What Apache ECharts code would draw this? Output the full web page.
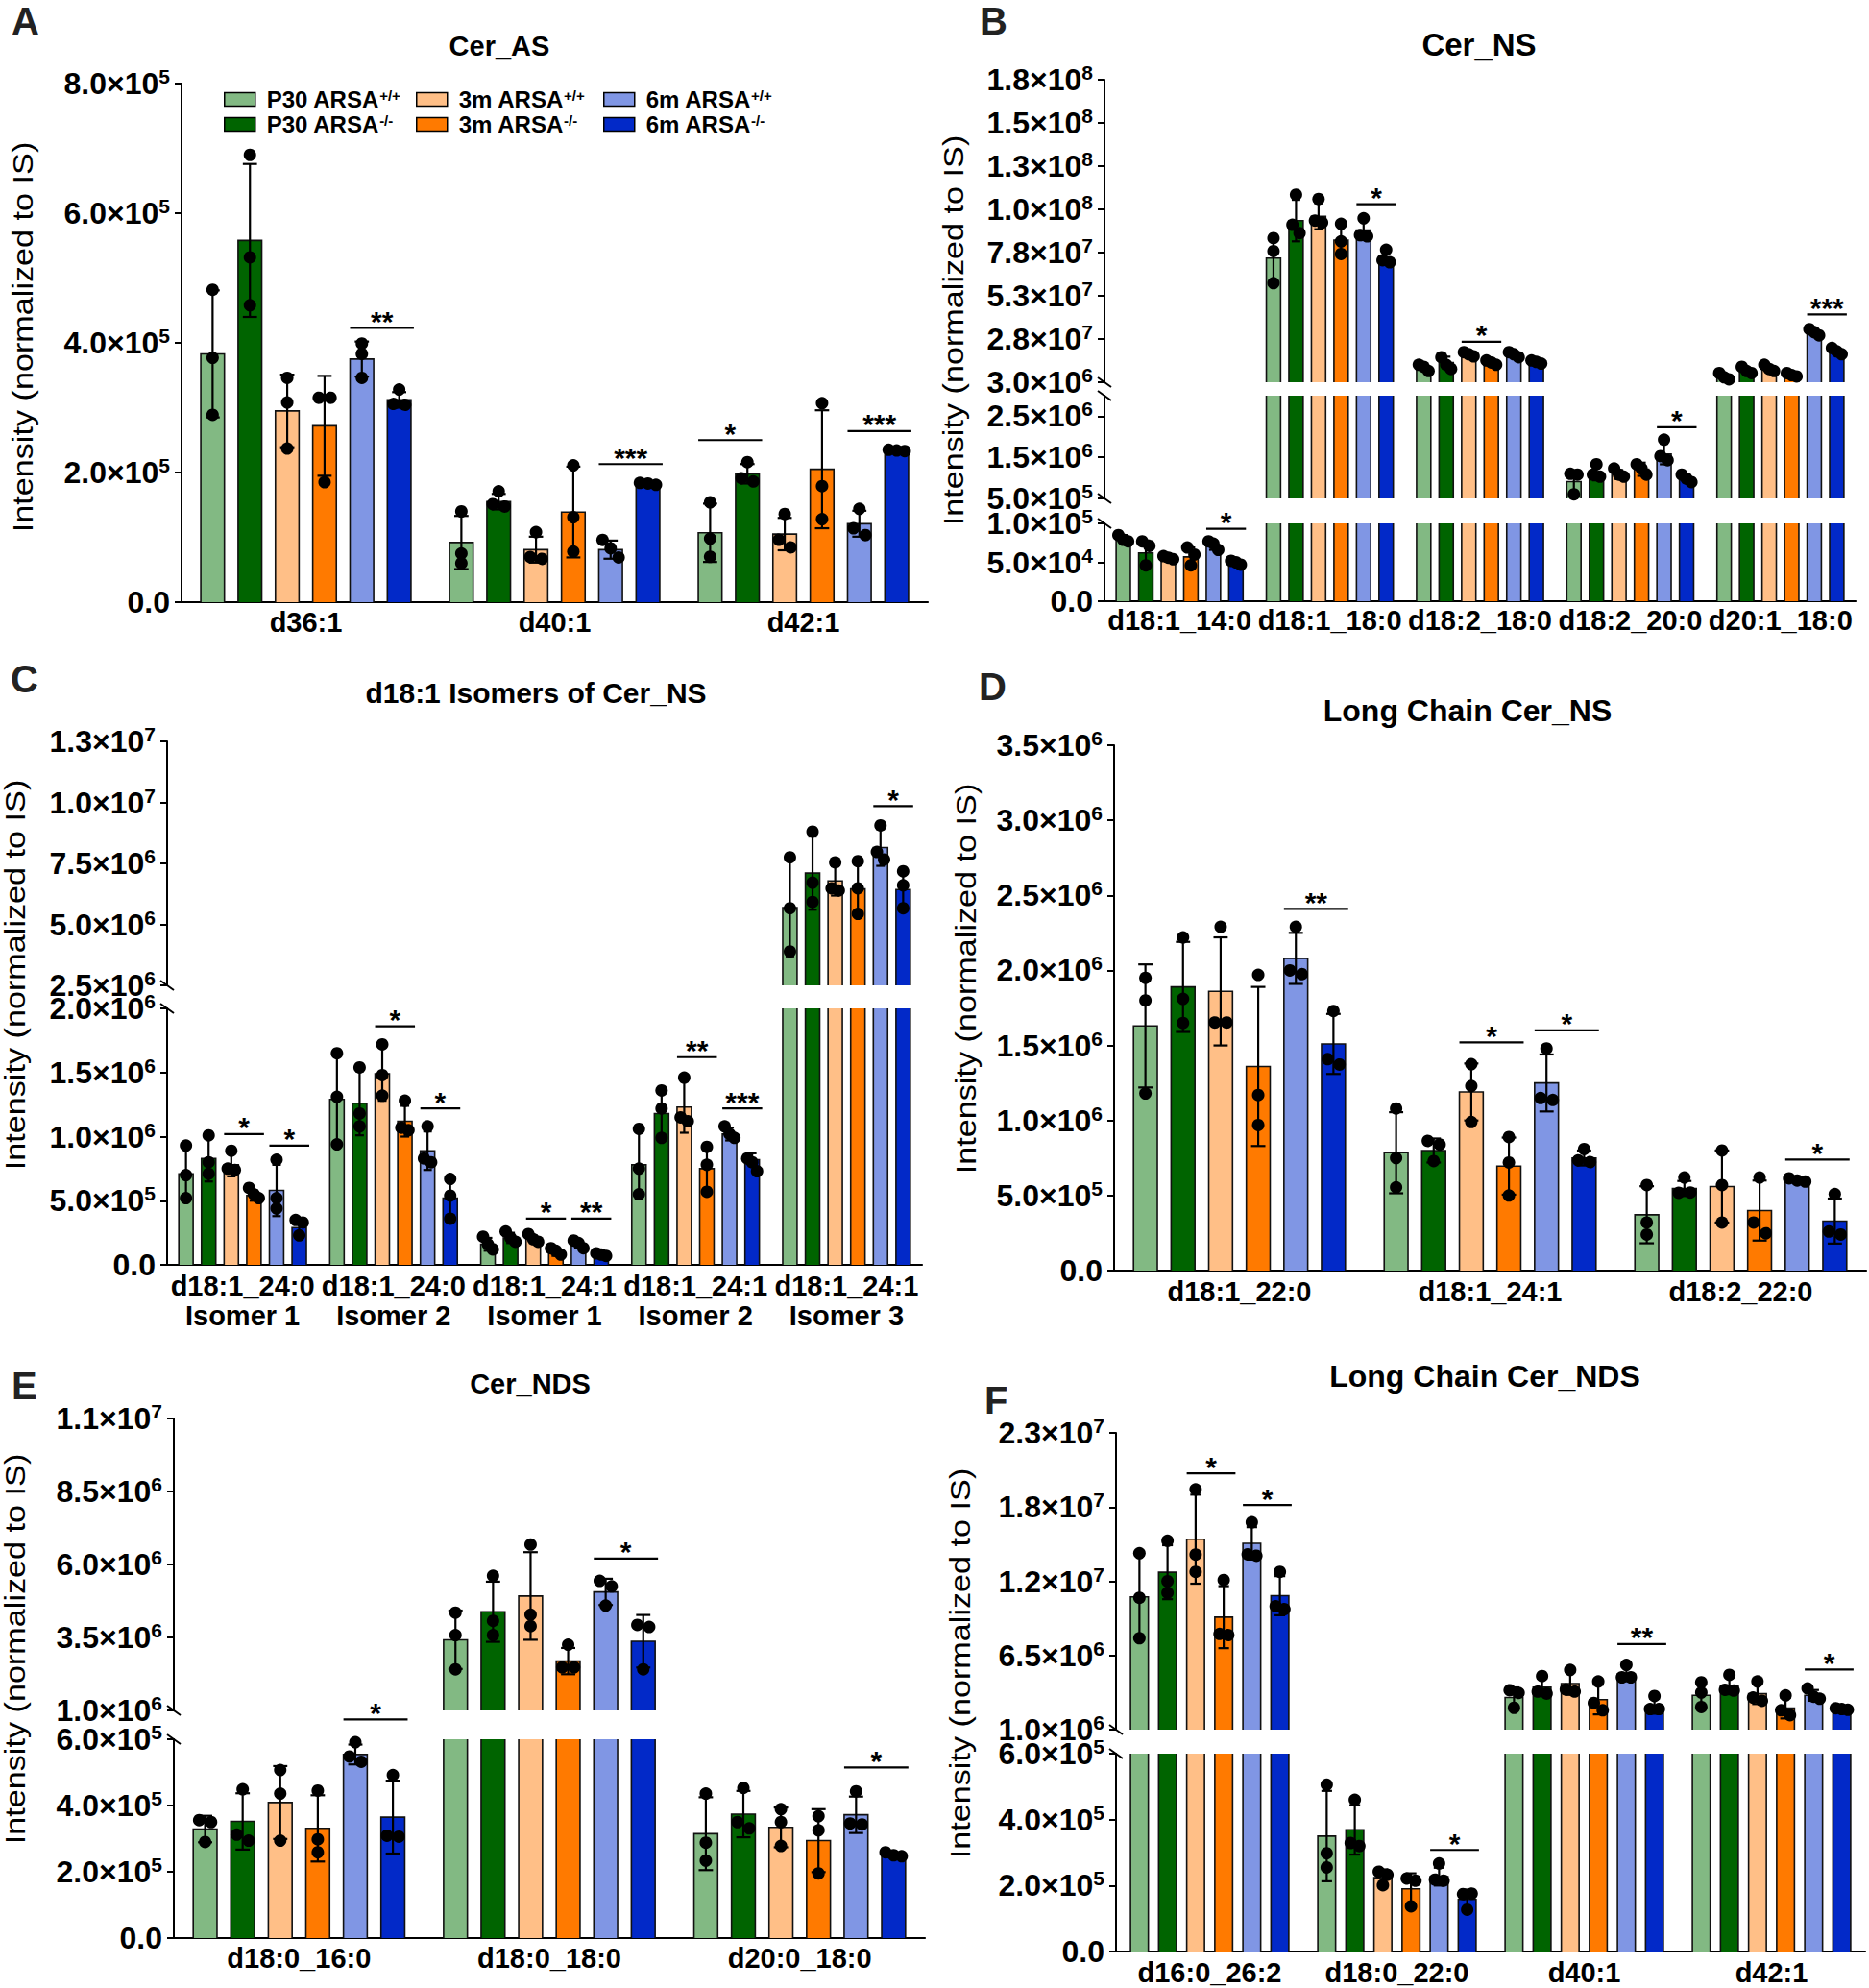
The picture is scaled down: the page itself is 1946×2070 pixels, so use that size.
<!DOCTYPE html>
<html><head><meta charset="utf-8">
<script src="https://cdn.jsdelivr.net/npm/echarts@6/dist/echarts.min.js"></script>
<style>html,body{margin:0;padding:0;background:#fff}#c{width:1946px;height:2070px}</style>
</head><body><div id="c"></div>
<script>
// ---------------- DATA ----------------
const groups = ['P30 ARSA+/+','P30 ARSA-/-','3m ARSA+/+','3m ARSA-/-','6m ARSA+/+','6m ARSA-/-'];
const colors = ['#82B983','#006400','#FFBF87','#FF7A00','#8096E4','#0229C8'];

// Panel A: Cer_AS (values in units of 1e5)
const A_cats = ['d36:1','d40:1','d42:1'];
const A_unit = 1e5;
const A_mean = [[3.83,0.92,1.07],[5.58,1.55,1.98],[2.95,0.81,1.05],[2.72,1.39,2.05],[3.75,0.81,1.21],[3.12,1.84,2.33]];
const A_sd   = [[0.98,0.41,0.45],[1.18,0.12,0.15],[0.56,0.20,0.25],[0.77,0.70,0.91],[0.27,0.14,0.20],[0.12,0.02,0.01]];
const A_pts  = [
  [[4.82,3.77,2.89],[1.40,0.75,0.60],[1.54,0.98,0.70]],
  [[6.90,5.32,4.58],[1.71,1.52,1.49],[2.16,1.92,1.87]],
  [[3.46,3.08,2.37],[1.08,0.72,0.69],[1.36,0.98,0.86]],
  [[3.17,3.17,1.85],[2.11,1.31,0.78],[3.07,1.79,1.28]],
  [[3.99,3.83,3.46],[0.96,0.83,0.69],[1.44,1.14,1.05]],
  [[3.28,3.07,3.06],[1.84,1.83,1.81],[2.35,2.34,2.33]]];
const A_sig = [[0,4,5,4.23,'**'],[1,4,5,2.13,'***'],[2,0,1,2.50,'*'],[2,4,5,2.64,'***']];
const A_ranges = [[0,8e5]];
const A_ticks = [[0,2e5,4e5,6e5,8e5]];

// Panel B: Cer_NS (units of 1e6)
const B_cats = ['d18:1_14:0','d18:1_18:0','d18:2_18:0','d18:2_20:0','d20:1_18:0'];
const B_unit = 1e6;
const B_mean = [[0.081,74.8,11.9,0.91,5.9],[0.062,96.5,14.4,1.10,9.5],[0.054,99.0,19.2,1.08,10.7],[0.057,85.2,14.4,1.21,7.1],[0.072,91.0,19.2,1.58,32.0],[0.049,74.8,14.8,0.98,20.4]];
const B_sd   = [[0.004,13,1.8,0.27,1.8],[0.016,12,3.4,0.16,1.8],[0.002,7.5,1.2,0.11,1.8],[0.012,8.7,1.2,0.16,1.2],[0.006,5.8,1.2,0.25,1.8],[0.003,3.8,0.9,0.09,1.8]];
const B_pts  = [
  [[0.085,0.079,0.077],[86.4,78.9,60.3],[13.1,11.9,9.5],[1.10,1.08,0.60],[8.3,5.9,4.7]],
  [[0.077,0.071,0.046],[111.5,94.1,89.3],[17.5,13.1,10.7],[1.33,1.08,1.03],[11.9,9.5,8.3]],
  [[0.058,0.056,0.054],[109,96.5,95.3],[20.4,19.2,18.0],[1.23,1.08,1.03],[13.1,10.7,9.5]],
  [[0.069,0.060,0.046],[94.6,84.5,77.2],[15.6,14.4,13.1],[1.33,1.23,1.08],[8.3,7.1,6.4]],
  [[0.077,0.074,0.066],[97.8,88.1,87.4],[20.4,19.2,17.5],[1.93,1.53,1.43],[33.7,32.0,30.1]],
  [[0.052,0.050,0.047],[79.6,73.6,72.4],[15.6,14.8,13.8],[1.08,0.98,0.90],[22.8,20.9,19.2]]];
const B_sig = [[0,4,5,0.093,'*'],[1,4,5,106,'*'],[2,2,3,26.4,'*'],[3,4,5,2.23,'*'],[4,4,5,42.2,'***']];
const B_ranges = [[0,1e5],[5e5,3e6],[3e6,1.78e8]];
const B_ticks = [[0,5e4,1e5],[5e5,1.5e6,2.5e6],[3e6,2.8e7,5.3e7,7.8e7,1.03e8,1.28e8,1.53e8,1.78e8]];

// Panel C: d18:1 isomers of Cer_NS (units of 1e6)
const C_cats = ['d18:1_24:0\nIsomer 1','d18:1_24:0\nIsomer 2','d18:1_24:1\nIsomer 1','d18:1_24:1\nIsomer 2','d18:1_24:1\nIsomer 3'];
const C_unit = 1e6;
const C_mean = [[0.71,1.29,0.16,0.78,5.69],[0.83,1.26,0.21,1.18,7.10],[0.78,1.49,0.20,1.23,6.78],[0.54,1.12,0.09,0.75,6.45],[0.58,0.89,0.15,1.02,8.15],[0.29,0.52,0.08,0.82,6.43]];
const C_sd   = [[0.21,0.36,0.05,0.27,2.0],[0.18,0.25,0.04,0.18,1.5],[0.09,0.21,0.03,0.20,0.6],[0.04,0.12,0.02,0.17,1.08],[0.20,0.15,0.02,0.05,0.75],[0.06,0.16,0.01,0.05,0.76]];
const C_pts  = [
  [[0.93,0.70,0.52],[1.65,1.31,0.94],[0.22,0.16,0.12],[1.06,0.75,0.55],[7.75,5.66,3.89]],
  [[1.01,0.80,0.71],[1.54,1.18,1.08],[0.26,0.21,0.18],[1.36,1.22,0.99],[8.80,6.71,5.92]],
  [[0.89,0.75,0.74],[1.72,1.48,1.32],[0.24,0.20,0.18],[1.46,1.15,1.12],[7.54,6.48,6.39]],
  [[0.60,0.55,0.52],[1.28,1.07,1.05],[0.13,0.11,0.08],[0.92,0.78,0.57],[7.59,6.48,5.43]],
  [[0.82,0.52,0.44],[1.08,0.83,0.80],[0.19,0.17,0.13],[1.08,1.02,0.99],[9.06,7.97,7.66]],
  [[0.35,0.33,0.23],[0.67,0.54,0.36],[0.09,0.08,0.07],[0.83,0.80,0.73],[7.18,6.60,5.66]]];
const C_sig = [[0,2,3,1.02,'*'],[0,4,5,0.93,'*'],[1,2,3,1.86,'*'],[1,4,5,1.22,'*'],[2,2,3,0.36,'*'],[2,4,5,0.36,'**'],[3,2,3,1.62,'**'],[3,4,5,1.22,'***'],[4,4,5,9.85,'*']];
const C_ranges = [[0,2e6],[2.5e6,1.25e7]];
const C_ticks = [[0,5e5,1e6,1.5e6,2e6],[2.5e6,5e6,7.5e6,1e7,1.25e7]];

// Panel D: Long chain Cer_NS (units of 1e6)
const D_cats = ['d18:1_22:0','d18:1_24:1','d18:2_22:0'];
const D_unit = 1e6;
const D_mean = [[1.63,0.785,0.372],[1.89,0.80,0.547],[1.86,1.19,0.56],[1.36,0.696,0.40],[2.08,1.25,0.607],[1.51,0.75,0.33]];
const D_sd   = [[0.41,0.27,0.19],[0.30,0.08,0.05],[0.36,0.19,0.24],[0.53,0.19,0.20],[0.17,0.19,0.01],[0.20,0.05,0.15]];
const D_pts  = [
  [[1.95,1.80,1.18],[1.08,0.75,0.555],[0.57,0.32,0.24]],
  [[2.22,1.81,1.65],[0.87,0.84,0.73],[0.62,0.53,0.52]],
  [[2.29,1.66,1.66],[1.375,1.23,0.99],[0.80,0.57,0.32]],
  [[1.97,1.17,0.97],[0.89,0.72,0.50],[0.62,0.32,0.26]],
  [[2.29,1.98,2.00],[1.48,1.15,1.15],[0.615,0.60,0.593]],
  [[1.73,1.42,1.38],[0.81,0.74,0.73],[0.51,0.26,0.24]]];
const D_sig = [[0,4,5,2.41,'**'],[1,2,3,1.52,'*'],[1,4,5,1.60,'*'],[2,4,5,0.74,'*']];
const D_ranges = [[0,3.5e6]];
const D_ticks = [[0,5e5,1e6,1.5e6,2e6,2.5e6,3e6,3.5e6]];

// Panel E: Cer_NDS (units of 1e6)
const E_cats = ['d18:0_16:0','d18:0_18:0','d20:0_18:0'];
const E_unit = 1e6;
const E_mean = [[0.329,3.42,0.315],[0.352,4.38,0.374],[0.409,4.92,0.334],[0.331,2.69,0.294],[0.554,5.06,0.372],[0.365,3.37,0.250]];
const E_sd   = [[0.04,1.0,0.11],[0.085,1.03,0.07],[0.11,1.5,0.06],[0.10,0.45,0.095],[0.03,0.45,0.055],[0.11,0.9,0.006]];
const E_pts  = [
  [[0.356,0.350,0.290],[4.35,3.58,2.41],[0.436,0.288,0.234]],
  [[0.449,0.312,0.294],[5.61,4.07,3.58],[0.453,0.350,0.331]],
  [[0.507,0.436,0.294],[6.68,4.28,3.89],[0.389,0.350,0.278]],
  [[0.445,0.298,0.259],[3.25,2.48,2.48],[0.368,0.325,0.195]],
  [[0.591,0.548,0.532],[5.44,5.25,4.59],[0.443,0.346,0.343]],
  [[0.492,0.309,0.306],[3.93,3.86,2.41],[0.259,0.250,0.247]]];
const E_sig = [[0,4,5,0.66,'*'],[1,4,5,6.2,'*'],[2,4,5,0.515,'*']];
const E_ranges = [[0,6e5],[1e6,1.1e7]];
const E_ticks = [[0,2e5,4e5,6e5],[1e6,3.5e6,6e6,8.5e6,1.1e7]];

// Panel F: Long chain Cer_NDS (units of 1e6)
const F_cats = ['d16:0_26:2','d18:0_22:0','d40:1','d42:1'];
const F_unit = 1e6;
const F_mean = [[10.84,0.350,3.38,3.54],[12.67,0.369,4.15,4.27],[15.12,0.224,4.42,3.66],[9.34,0.190,3.23,2.59],[14.81,0.227,5.12,3.54],[10.93,0.158,2.74,2.68]];
const F_sd   = [[3.15,0.137,0.75,0.93],[2.0,0.075,0.66,0.65],[3.3,0.025,0.84,0.76],[2.3,0.047,1.1,0.76],[1.2,0.027,0.53,0.40],[1.45,0.030,0.56,0.06]];
const F_pts  = [
  [[14.08,10.78,7.78],[0.506,0.298,0.255],[4.00,3.84,2.62],[4.51,3.75,2.68]],
  [[15.0,12.0,11.14],[0.460,0.335,0.323],[4.97,3.90,3.75],[5.06,3.96,3.90]],
  [[18.81,13.98,12.7],[0.248,0.236,0.201],[5.43,4.06,3.90],[4.57,3.38,3.14]],
  [[12.09,8.24,8.09],[0.226,0.217,0.137],[4.57,2.98,2.44],[3.54,2.44,2.07]],
  [[16.37,14.14,13.98],[0.267,0.224,0.217],[5.80,4.88,4.88],[4.06,3.44,3.29]],
  [[12.7,10.26,10.01],[0.180,0.178,0.127],[3.50,2.53,2.53],[2.59,2.53,2.47]]];
const F_sig = [[0,2,3,20.0,'*'],[0,4,5,17.65,'*'],[1,4,5,0.308,'*'],[2,4,5,7.35,'**'],[3,4,5,5.46,'*']];
const F_ranges = [[0,6e5],[1e6,2.3e7]];
const F_ticks = [[0,2e5,4e5,6e5],[1e6,6.5e6,1.2e7,1.75e7,2.3e7]];

const panelLetters = ['A','B','C','D','E','F'];
const panelTitles = ['Cer_AS','Cer_NS','d18:1 Isomers of Cer_NS','Long Chain Cer_NS','Cer_NDS','Long Chain Cer_NDS'];
const yTitle = 'Intensity (normalized to IS)';

// ---------------- LAYOUT ----------------
const FONT = 'Liberation Sans';
const BARW = 0.095, PITCH = 0.15;
const PANELS = [
  {cats:A_cats,unit:A_unit,mean:A_mean,sd:A_sd,pts:A_pts,sig:A_sig,ranges:A_ranges,ticks:A_ticks,
   lay:{left:189,width:777,segs:[[87,627]],lm:5,letter:[12,22],title:[520,48,29],ytitle:[24,351]}},
  {cats:B_cats,unit:B_unit,mean:B_mean,sd:B_sd,pts:B_pts,sig:B_sig,ranges:B_ranges,ticks:B_ticks,
   lay:{left:1150,width:782,segs:[[545,626],[412,519],[83,398]],lm:4,letter:[1020,22],title:[1540,46,33],ytitle:[993,344]}},
  {cats:C_cats,unit:C_unit,mean:C_mean,sd:C_sd,pts:C_pts,sig:C_sig,ranges:C_ranges,ticks:C_ticks,
   lay:{left:174,width:786,segs:[[1050,1317],[772,1026]],lm:6,letter:[11,707],title:[558,721,30],ytitle:[16,1015]}},
  {cats:D_cats,unit:D_unit,mean:D_mean,sd:D_sd,pts:D_pts,sig:D_sig,ranges:D_ranges,ticks:D_ticks,
   lay:{left:1160,width:783,segs:[[776,1323]],lm:6,letter:[1019,715],title:[1528,740,32],ytitle:[1006,1019]}},
  {cats:E_cats,unit:E_unit,mean:E_mean,sd:E_sd,pts:E_pts,sig:E_sig,ranges:E_ranges,ticks:E_ticks,
   lay:{left:181,width:782,segs:[[1811,2018],[1477,1781]],lm:5,letter:[12,1443],title:[552,1441,29],ytitle:[16,1717]}},
  {cats:F_cats,unit:F_unit,mean:F_mean,sd:F_sd,pts:F_pts,sig:F_sig,ranges:F_ranges,ticks:F_ticks,
   lay:{left:1162,width:780,segs:[[1826,2032],[1492,1801]],lm:6,letter:[1025,1458],title:[1546,1433,32],ytitle:[1000,1732]}}
];

// ---------------- BUILD ----------------
const grids=[], xAxes=[], yAxes=[], series=[], graphics=[];
const EDGE = {stroke:'#111', lineWidth:1.6, fill:null};

function fmtTick(v){
  if (v === 0) return '{m|0.0}';
  const s = v.toExponential(1).split('e');
  return '{m|' + s[0] + '×10}{e|' + (+s[1]) + '}';
}
const tickRich = {
  m:{fontFamily:FONT,fontWeight:'bold',fontSize:32,color:'#000',lineHeight:36,verticalAlign:'middle'},
  e:{fontFamily:FONT,fontWeight:'bold',fontSize:21,color:'#000',lineHeight:20,verticalAlign:'top'}
};

function dotOffsets(ys, w){
  const idx = ys.map((y,k)=>k).sort((a,b)=>ys[a]-ys[b]);
  const off = ys.map(()=>0);
  let cl = [idx[0]];
  const flush = () => {
    const n = cl.length;
    const dx = n === 2 ? Math.min(13, w*0.5) : Math.min(9, w*0.34);
    cl.forEach((k,j)=>{ off[k] = (j-(n-1)/2)*dx; });
  };
  for (let j=1;j<idx.length;j++){
    if (ys[idx[j]] - ys[cl[cl.length-1]] < 10) cl.push(idx[j]);
    else { flush(); cl = [idx[j]]; }
  }
  flush();
  return off;
}

function barRender(P, g){
  return function(params, api){
    const i = params.dataIndex, u = P.unit;
    const mean = P.mean[g][i]*u, sd = P.sd[g][i]*u, pts = P.pts[g][i];
    const cs = params.coordSys;
    const top = cs.y, bottom = cs.y + cs.height;
    const band = api.size([1,0])[0];
    const c = api.coord([i, mean]);
    const cx = c[0] + (g-2.5)*PITCH*band;
    const w = BARW*band, L = cx - w/2, R = cx + w/2;
    const yT = c[1];
    const ch = [];
    if (yT < bottom - 0.5){
      const yc = Math.max(yT, top);
      ch.push({type:'rect', shape:{x:L,y:yc,width:w,height:bottom-yc}, style:{fill:colors[g]}});
      if (yT >= top) ch.push({type:'polyline', shape:{points:[[L,bottom],[L,yc],[R,yc],[R,bottom]]}, style:EDGE});
      else {
        ch.push({type:'line', shape:{x1:L,y1:top,x2:L,y2:bottom}, style:EDGE});
        ch.push({type:'line', shape:{x1:R,y1:top,x2:R,y2:bottom}, style:EDGE});
      }
    }
    const yHi = api.coord([i, mean+sd])[1], yLo = api.coord([i, mean-sd])[1];
    const a = Math.max(yHi, top), b = Math.min(yLo, bottom);
    const ES = {stroke:'#000', lineWidth:2.2};
    const cap = w*0.3;
    if (a < b){
      ch.push({type:'line', shape:{x1:cx,y1:a,x2:cx,y2:b}, style:ES});
      if (yHi >= top && yHi <= bottom) ch.push({type:'line', shape:{x1:cx-cap,y1:yHi,x2:cx+cap,y2:yHi}, style:ES});
      if (yLo >= top && yLo <= bottom) ch.push({type:'line', shape:{x1:cx-cap,y1:yLo,x2:cx+cap,y2:yLo}, style:ES});
    }
    const ys = pts.map(p => api.coord([i, p*u])[1]);
    const off = dotOffsets(ys, w);
    ys.forEach((y,k)=>{
      if (y >= top-1 && y <= bottom+1)
        ch.push({type:'circle', shape:{cx:cx+off[k], cy:y, r:6.5}, style:{fill:'#000'}});
    });
    return {type:'group', children:ch};
  };
}

function sigRender(P, list){
  return function(params, api){
    const sg = list[params.dataIndex];
    const band = api.size([1,0])[0];
    const c = api.coord([sg[0], sg[3]*P.unit]);
    const w = BARW*band;
    const x1 = c[0] + (sg[1]-2.5)*PITCH*band - w/2;
    const x2 = c[0] + (sg[2]-2.5)*PITCH*band + w/2 + 3;
    return {type:'group', children:[
      {type:'line', shape:{x1:x1,y1:c[1],x2:x2,y2:c[1]}, style:{stroke:'#000',lineWidth:2.2}},
      {type:'text', x:(x1+x2)/2, y:c[1]-7, style:{text:sg[4], fill:'#000', font:'bold 30px "'+FONT+'"',
        textAlign:'center', align:'center', textVerticalAlign:'middle', verticalAlign:'middle'}}
    ]};
  };
}

function breakRender(nSeg, s){
  return function(params, api){
    const cs = params.coordSys;
    const ch = [];
    const st = {stroke:'#000', lineWidth:2};
    if (s < nSeg-1) ch.push({type:'line', shape:{x1:cs.x-7,y1:cs.y-5,x2:cs.x+7,y2:cs.y+5}, style:st});
    if (s > 0) ch.push({type:'line', shape:{x1:cs.x-7,y1:cs.y+cs.height-5,x2:cs.x+7,y2:cs.y+cs.height+5}, style:st});
    return {type:'group', children:ch};
  };
}

PANELS.forEach((P, pi) => {
  const Ly = P.lay;
  const nSeg = P.ranges.length;
  const segIdx = [];
  for (let s=0;s<nSeg;s++){
    const gi = grids.length;
    segIdx.push(gi);
    const t = Ly.segs[s][0], b = Ly.segs[s][1];
    grids.push({left:Ly.left, top:t, width:Ly.width, height:b-t});
    xAxes.push({type:'category', gridIndex:gi, data:P.cats, show: s===0,
      axisLine:{show:true, onZero:false, lineStyle:{color:'#000', width:2.2}},
      axisTick:{show:false},
      axisLabel:{interval:0, margin:Ly.lm, fontFamily:FONT, fontWeight:'bold', fontSize:29, lineHeight:31, color:'#000'}});
    const tk = P.ticks[s];
    yAxes.push({type:'value', gridIndex:gi, min:P.ranges[s][0], max:P.ranges[s][1],
      interval: tk[1]-tk[0],
      axisLine:{show:true, onZero:false, lineStyle:{color:'#000', width:2}},
      axisTick:{show:true, length:7, lineStyle:{color:'#000', width:2}, customValues:tk},
      axisLabel:{customValues:tk, formatter:fmtTick, rich:tickRich, margin:12},
      splitLine:{show:false}});
    for (let g=0; g<6; g++){
      series.push({type:'custom', name:groups[g], xAxisIndex:gi, yAxisIndex:gi,
        itemStyle:{color:colors[g]}, silent:true,
        data:P.cats.map((c,i)=>[i, P.mean[g][i]*P.unit]),
        renderItem:barRender(P, g)});
    }
    if (nSeg > 1){
      series.push({type:'custom', xAxisIndex:gi, yAxisIndex:gi, silent:true,
        data:[[0, P.ranges[s][0]]], renderItem:breakRender(nSeg, s)});
    }
  }
  // significance brackets, placed in the segment of the "from" bar
  const bySeg = P.ranges.map(()=>[]);
  P.sig.forEach(sg => {
    const m = P.mean[sg[1]][sg[0]]*P.unit;
    let s = 0;
    P.ranges.forEach((r,k)=>{ if (m >= r[0]) s = k; });
    bySeg[s].push(sg);
  });
  bySeg.forEach((list, s) => {
    if (!list.length) return;
    series.push({type:'custom', xAxisIndex:segIdx[s], yAxisIndex:segIdx[s], silent:true, z:5,
      data:list.map(sg=>[sg[0], sg[3]*P.unit]), renderItem:sigRender(P, list)});
  });
  // texts
  graphics.push({type:'text', x:Ly.letter[0], y:Ly.letter[1],
    style:{text:panelLetters[pi], font:'bold 40px "'+FONT+'"', fill:'#222', textAlign:'left', align:'left', textVerticalAlign:'middle', verticalAlign:'middle'}});
  graphics.push({type:'text', x:Ly.title[0], y:Ly.title[1],
    style:{text:panelTitles[pi], font:'bold '+Ly.title[2]+'px "'+FONT+'"', fill:'#000', textAlign:'center', align:'center', textVerticalAlign:'middle', verticalAlign:'middle'}});
  graphics.push({type:'text', x:Ly.ytitle[0], y:Ly.ytitle[1], rotation:Math.PI/2, scaleX:1.14, scaleY:1,
    style:{text:yTitle, font:'30px "'+FONT+'"', fill:'#000', textAlign:'center', align:'center', textVerticalAlign:'middle', verticalAlign:'middle'}});
});

const legendLeft = [233, 433, 628];
const legends = [0,1,2].map(k => ({
  orient:'vertical', left:legendLeft[k], top:91.5, padding:0, itemGap:2,
  itemWidth:32, itemHeight:14, icon:'rect', selectedMode:false,
  itemStyle:{borderColor:'#000', borderWidth:1.5},
  data:[2*k, 2*k+1].map(g => ({name:groups[g], itemStyle:{color:colors[g], borderColor:'#000', borderWidth:1.5}})),
  formatter: n => { const m = n.match(/^(.*?)([+-]\/[+-])$/); return '{n|' + m[1] + '}{s|' + m[2] + '}'; },
  textStyle:{color:'#000', rich:{
    n:{fontFamily:FONT, fontWeight:'bold', fontSize:24, color:'#000', lineHeight:24, padding:[0,0,0,7]},
    s:{fontFamily:FONT, fontWeight:'bold', fontSize:15, color:'#000', lineHeight:15, verticalAlign:'top'}}}
}));

const chart = echarts.init(document.getElementById('c'), null, {renderer:'svg', width:1946, height:2070});
chart.setOption({
  backgroundColor:'#fff', animation:false,
  grid:grids, xAxis:xAxes, yAxis:yAxes, series:series,
  legend:legends,
  graphic:{elements:graphics}
});
</script></body></html>
